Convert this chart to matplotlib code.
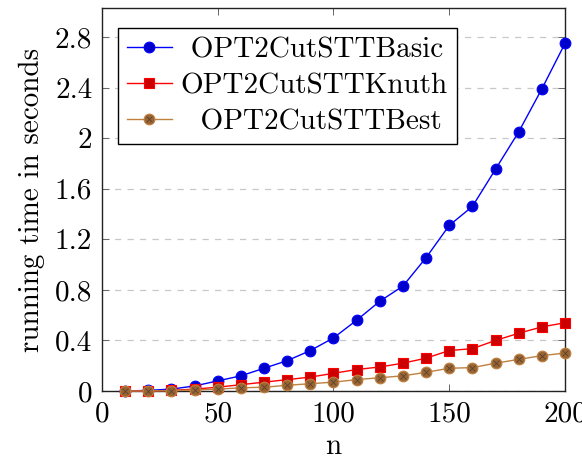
import matplotlib
matplotlib.use("Agg")
import matplotlib.pyplot as plt
from matplotlib.legend_handler import HandlerTuple

plt.rcParams['font.family'] = ['cmr10', 'DejaVu Serif']
plt.rcParams['mathtext.fontset'] = 'cm'
plt.rcParams['axes.formatter.use_mathtext'] = True

n = [10, 20, 30, 40, 50, 60, 70, 80, 90, 100, 110, 120, 130, 140, 150, 160, 170, 180, 190, 200]
basic = [0.0, 0.005, 0.015, 0.04, 0.08, 0.12, 0.18, 0.24, 0.32, 0.42, 0.56, 0.71, 0.83, 1.055,
         1.31, 1.46, 1.755, 2.05, 2.39, 2.75]
knuth = [0.0, 0.0, 0.005, 0.015, 0.03, 0.05, 0.07, 0.09, 0.11, 0.14, 0.17, 0.19, 0.22, 0.26,
         0.32, 0.335, 0.40, 0.457, 0.507, 0.54]
best = [0.0, 0.0, 0.003, 0.008, 0.015, 0.025, 0.03, 0.045, 0.058, 0.07, 0.09, 0.105, 0.12, 0.148,
        0.18, 0.185, 0.22, 0.25, 0.28, 0.30]

xticks = [0, 50, 100, 150, 200]
xticklabels = ["0", "50", "100", "150", "200"]
yticks = [0, 0.4, 0.8, 1.2, 1.6, 2.0, 2.4, 2.8]
yticklabels = ["0", "0.4", "0.8", "1.2", "1.6", "2", "2.4", "2.8"]

fig = plt.figure(figsize=(5.82, 4.57), dpi=100)
ax = fig.add_axes([102/582, 1-391/457, 463/582, 383/457])

fs = 21
l1, = ax.plot(n, basic, color='#0000ff', lw=1.0, marker='o', ms=7.7,
              mfc='#0000cc', mec='#0000ff', mew=0.8, clip_on=False, zorder=3)
l2, = ax.plot(n, knuth, color='#ff0000', lw=1.0, marker='s', ms=7.4,
              mfc='#cc0000', mec='#ff0000', mew=0.8, clip_on=False, zorder=4)
l3, = ax.plot(n, best, color='#bf8040', lw=1.0, marker='o', ms=7.7,
              mfc='#996633', mec='#bf8040', mew=0.8, clip_on=False, zorder=5)
l3x, = ax.plot(n, best, ls='none', marker='x', ms=5.0, mec='#5a4030', mew=0.6,
               clip_on=False, zorder=6)

ax.set_xlim(0, 200)
ax.set_ylim(0, 3.03)
ax.set_xticks(xticks)
ax.set_xticklabels(xticklabels, fontsize=fs)
ax.set_yticks(yticks)
ax.set_yticklabels(yticklabels, fontsize=fs)
ax.tick_params(direction='in', top=True, right=True, length=5, width=0.7,
               color='#666666', pad=7)
ax.yaxis.grid(True, linestyle=(0, (5, 5)), color='#c8c8c8', lw=0.9)
ax.set_axisbelow(True)
for s in ax.spines.values():
    s.set_linewidth(1.0)
    s.set_color('#222222')

ax.set_xlabel('n', fontsize=fs, labelpad=5)
ax.set_ylabel('running time in seconds', fontsize=fs, labelpad=7)

leg = ax.legend([l1, l2, (l3, l3x)],
                [' OPT2CutSTTBasic', 'OPT2CutSTTKnuth', '  OPT2CutSTTBest'],
                handler_map={tuple: HandlerTuple(ndivide=1, pad=0)},
                loc='upper left', bbox_to_anchor=(16/463, (391-28)/383),
                borderaxespad=0, fontsize=fs, frameon=True, fancybox=False,
                edgecolor='black', framealpha=1, handlelength=1.55,
                handletextpad=0.3, labelspacing=0.33, borderpad=0.3)
leg.get_frame().set_linewidth(1.0)

fig.savefig('out.png', dpi=100)
